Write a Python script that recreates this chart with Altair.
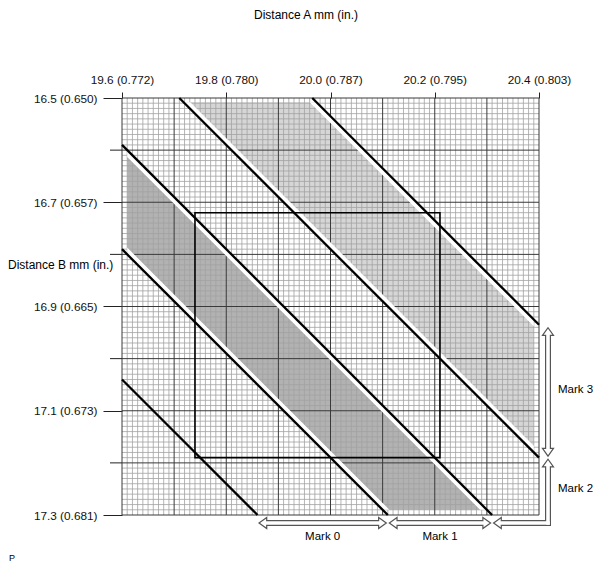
import json
import altair as alt
import pandas as pd

# axis values, mm (in.)
a_ticks = [19.6, 19.8, 20.0, 20.2, 20.4]
a_labels = ["19.6 (0.772)", "19.8 (0.780)", "20.0 (0.787)", "20.2 (0.795)", "20.4 (0.803)"]
b_ticks = [16.5, 16.7, 16.9, 17.1, 17.3]
b_labels = ["16.5 (0.650)", "16.7 (0.657)", "16.9 (0.665)", "17.1 (0.673)", "17.3 (0.681)"]
b_short_ticks = [16.6, 16.8, 17.0, 17.2]

# diagonal limit lines, each one is A - B = const (mm)
line_consts = [2.56, 2.81, 3.01, 3.21, 3.465]
mark_names = ["Mark 0", "Mark 1", "Mark 2", "Mark 3"]

# shaded bands: A-B from, A-B to, A min, A max, B min, B max
dark_band = [2.81, 3.01, 19.61, 20.4, 16.5, 17.29]
light_band = [3.21, 3.465, 19.6, 20.39, 16.508, 17.3]

# inner box (mm)
box_a = [19.74, 20.21]
box_b = [16.72, 17.19]

A_MIN, A_MAX = 19.6, 20.4
B_MIN, B_MAX = 16.5, 17.3
W = H = 417
K = (A_MAX - A_MIN) / W     # mm per pixel
GAP = 0.013                 # white strip between band and line
FONT = "Liberation Sans"
OUTLINE = "#555555"

xs = alt.Scale(domain=[A_MIN, A_MAX], nice=False, zero=False)
ys = alt.Scale(domain=[B_MIN, B_MAX], nice=False, zero=False, reverse=True)
x_axis = alt.Axis(orient="top", values=a_ticks, title=None, domain=False, grid=False,
                  tickSize=6, labelPadding=7, labelFlush=False, labelOverlap=False,
                  labelExpr=f"{json.dumps(a_labels)}[round((datum.value - {A_MIN}) / 0.2)]")
y_axis = alt.Axis(orient="left", values=b_ticks, title=None, domain=False, grid=False,
                  tickSize=19, labelPadding=6, labelFlush=False, labelOverlap=False,
                  labelExpr=f"{json.dumps(b_labels)}[round((datum.value - {B_MIN}) / 0.2)]")


def X(f):
    return alt.X(f"{f}:Q", scale=xs, axis=x_axis)


def Y(f):
    return alt.Y(f"{f}:Q", scale=ys, axis=y_axis)


def band_rows(name, c_lo, c_hi, a0, a1, b0, b1):
    pts = {a0, a1} | {b + c for b in (b0, b1) for c in (c_lo, c_hi) if a0 < b + c < a1}
    return [{"band": name, "a": a,
             "top": min(max(a - c_hi, b0), b1),
             "bot": min(max(a - c_lo, b0), b1)} for a in sorted(pts)]


fill_rows, strip_rows = [], []
for name, (lo, hi, *box) in [("dark", dark_band), ("light", light_band)]:
    fill_rows += band_rows(name, lo, hi, *box)
    strip_rows += band_rows(name + "_lo", lo, lo + GAP, *box)
    strip_rows += band_rows(name + "_hi", hi - GAP, hi, *box)

fills = (alt.Chart(pd.DataFrame(fill_rows))
         .mark_area(orient="vertical", opacity=1)
         .encode(x=X("a"), y=Y("top"), y2="bot",
                 color=alt.Color("band:N", legend=None,
                                 scale=alt.Scale(domain=["dark", "light"], range=["#b2b2b2", "#d6d6d6"]))))
strips = (alt.Chart(pd.DataFrame(strip_rows))
          .mark_area(orient="vertical", color="white", opacity=1)
          .encode(x=X("a"), y=Y("top"), y2="bot", detail="band:N"))

# grid
minor_a = [round(A_MIN + i / 100, 2) for i in range(81) if i % 10]
minor_b = [round(B_MIN + i / 100, 2) for i in range(81) if i % 10]
major_a = [round(A_MIN + i / 10, 1) for i in range(9)]
major_b = [round(B_MIN + i / 10, 1) for i in range(9)]

grid = [
    alt.Chart(pd.DataFrame({"a": minor_a})).mark_rule(color="#a2a2a2", strokeWidth=0.8).encode(x=X("a")),
    alt.Chart(pd.DataFrame({"b": minor_b})).mark_rule(color="#a2a2a2", strokeWidth=0.8).encode(y=Y("b")),
    alt.Chart(pd.DataFrame({"a": major_a})).mark_rule(color="#3a3a3a", strokeWidth=1).encode(x=X("a")),
    alt.Chart(pd.DataFrame({"b": major_b})).mark_rule(color="#3a3a3a", strokeWidth=1).encode(y=Y("b")),
]
short_ticks = (alt.Chart(pd.DataFrame({"b": b_short_ticks}))
               .mark_rule(color="#222222", strokeWidth=1)
               .encode(x=alt.value(-12), x2=alt.value(0), y=Y("b")))

# diagonal lines clipped to the plot
line_rows = []
for i, c in enumerate(line_consts):
    for a in (max(A_MIN, B_MIN + c), min(A_MAX, B_MAX + c)):
        line_rows.append({"line": i, "a": a, "b": a - c})
lines = (alt.Chart(pd.DataFrame(line_rows))
         .mark_line(color="black", strokeWidth=2.3)
         .encode(x=X("a"), y=Y("b"), detail="line:N", order="a:Q"))

box = (alt.Chart(pd.DataFrame({"a0": [box_a[0]], "a1": [box_a[1]], "b0": [box_b[0]], "b1": [box_b[1]]}))
       .mark_rect(fill="transparent", stroke="black", strokeWidth=1.6)
       .encode(x=X("a0"), x2="a1", y=Y("b0"), y2="b1"))

# hollow arrows
ROW_Y = H + 8
COL_X = W + 9
HL = 7.5 * K
TG = 1.5 * K
bottom_ends = [B_MAX + c for c in line_consts]
right_ends = [A_MAX - c for c in line_consts]
h_tips = [(bottom_ends[0] + TG, bottom_ends[1] - TG), (bottom_ends[1] + TG, bottom_ends[2] - TG)]
m2_left = bottom_ends[2] + TG
m2_up = right_ends[3] + TG
m3_top = right_ends[4] + 2 * TG
m3_bot = right_ends[3] - TG

shaft_specs = [
    (pd.DataFrame({"s0": [t0 + HL for t0, _ in h_tips], "s1": [t1 - HL for _, t1 in h_tips]}),
     dict(x=X("s0"), x2="s1", y=alt.value(ROW_Y))),
    (pd.DataFrame({"s0": [m2_left + HL]}), dict(x=X("s0"), x2=alt.value(COL_X), y=alt.value(ROW_Y))),
    (pd.DataFrame({"s0": [m2_up + HL]}), dict(x=alt.value(COL_X), y=Y("s0"), y2=alt.value(ROW_Y))),
    (pd.DataFrame({"s0": [m3_top + HL], "s1": [m3_bot - HL]}), dict(x=alt.value(COL_X), y=Y("s0"), y2="s1")),
]
outer = [alt.Chart(df).mark_rule(color=OUTLINE, strokeWidth=6, strokeCap="square").encode(**enc)
         for df, enc in shaft_specs]
inner = [alt.Chart(df).mark_rule(color="white", strokeWidth=3.6, strokeCap="square").encode(**enc)
         for df, enc in shaft_specs]

LEFT = "M 1.4 -1 L 0 0 L 1.4 1 Z"
RIGHT = "M -1.4 -1 L 0 0 L -1.4 1 Z"
UP = "M -1 1.4 L 0 0 L 1 1.4 Z"
DOWN = "M -1 -1.4 L 0 0 L 1 -1.4 Z"


def heads(tips, shape, horizontal):
    enc = dict(x=X("t"), y=alt.value(ROW_Y)) if horizontal else dict(x=alt.value(COL_X), y=Y("t"))
    return (alt.Chart(pd.DataFrame({"t": tips}))
            .mark_point(shape=shape, size=121, filled=True, fill="white", stroke=OUTLINE,
                        strokeWidth=1.2, opacity=1)
            .encode(**enc))


head_layers = [
    heads([h_tips[0][0], h_tips[1][0], m2_left], LEFT, True),
    heads([h_tips[0][1], h_tips[1][1]], RIGHT, True),
    heads([m2_up, m3_top], UP, False),
    heads([m3_bot], DOWN, False),
]

bottom_labels = (alt.Chart(pd.DataFrame({"name": mark_names[:2], "a": [(t0 + t1) / 2 for t0, t1 in h_tips]}))
                 .mark_text(font=FONT, fontSize=11.5, color="black", align="center", baseline="middle")
                 .encode(x=X("a"), y=alt.value(ROW_Y + 14), text="name:N"))
side_labels = (alt.Chart(pd.DataFrame({"name": mark_names[2:],
                                       "b": [(m2_up + B_MAX + 8 * K) / 2, (m3_top + m3_bot) / 2]}))
               .mark_text(font=FONT, fontSize=11.5, color="black", align="left", baseline="middle", dy=-2)
               .encode(x=alt.value(W + 19), y=Y("b"), text="name:N"))


def label(text, x, y, align="center", size=11.5):
    return (alt.Chart(pd.DataFrame({"t": [text]}))
            .mark_text(font=FONT, fontSize=size, color="black", align=align, baseline="middle")
            .encode(x=alt.value(x), y=alt.value(y), text="t:N"))


titles = [
    label("Distance A mm (in.)", 184, -83, size=12),
    label("Distance B mm (in.)", -114, 167, align="left", size=12),
    label("P", -113, H + 43, align="left", size=9),
]

chart = (alt.layer(fills, *grid, strips, lines, box, short_ticks, *outer, *head_layers, *inner,
                   bottom_labels, side_labels, *titles)
         .properties(width=W, height=H, autosize="none",
                     padding={"left": 114, "top": 90, "right": 58, "bottom": 50})
         .configure_view(stroke=None)
         .configure_axis(labelFont=FONT, labelFontSize=11.8, labelColor="#111111",
                         tickColor="#222222", tickWidth=1))

chart.save("out.html", embed_options={"renderer": "svg", "actions": False})
